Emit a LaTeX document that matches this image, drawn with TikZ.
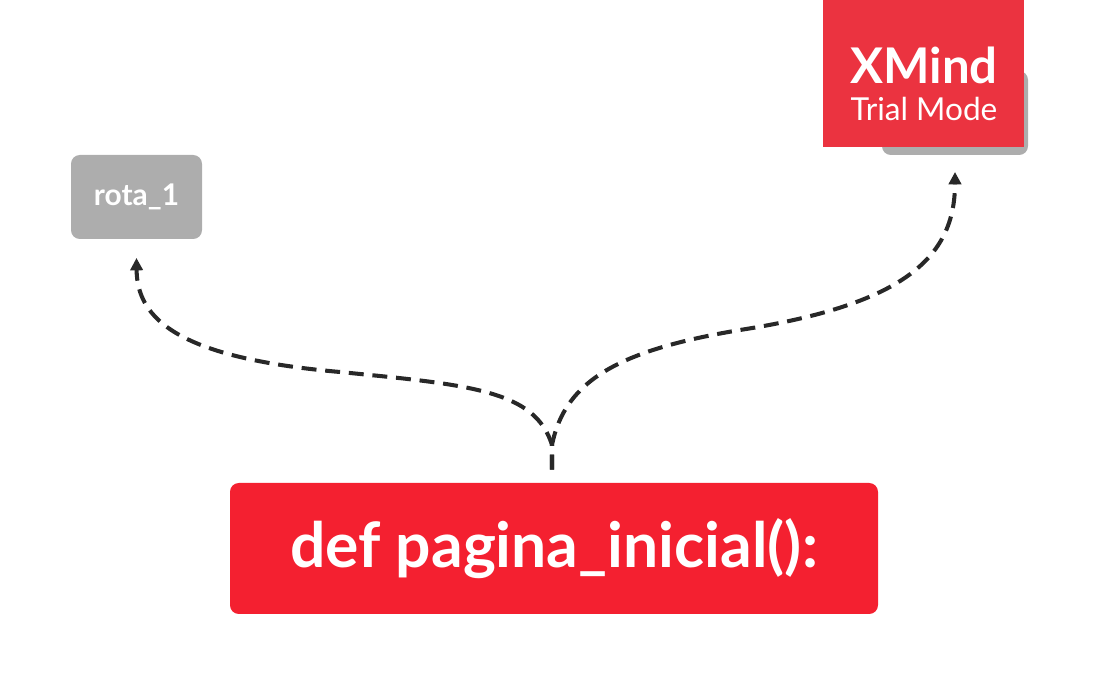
\documentclass[tikz,border=0pt]{standalone}
\usepackage{fontspec}
\setmainfont{Lato}
\usetikzlibrary{arrows.meta}
\definecolor{topicred}{RGB}{244,32,48}
\definecolor{markred}{RGB}{235,51,64}
\definecolor{topicgray}{RGB}{173,173,173}
\definecolor{linkdark}{RGB}{40,40,40}
\begin{document}
\begin{tikzpicture}[x=0.02cm,y=0.02cm,
    topic/.style={fill=topicred,rounded corners=5pt,text=white,inner sep=0pt},
    sub/.style={fill=topicgray,rounded corners=5pt,text=white,inner sep=0pt},
    link/.style={linkdark,line width=2.3pt,dash pattern=on 8.5pt off 5pt,shorten <=0.26cm,-{Triangle[length=7pt,width=7pt]}}]
    \useasboundingbox (0,0) rectangle (1100,686);
    % topics
    \node[topic,minimum width=648*0.02cm,minimum height=131*0.02cm,font=\fontsize{35.5}{38}\selectfont\bfseries] (main) at (554,137.5) {def pagina\_inicial():};
    \node[sub,minimum width=131*0.02cm,minimum height=84*0.02cm,font=\fontsize{17}{19}\selectfont\bfseries] (rota) at (136.5,489) {rota\_1};
    \node[sub,minimum width=146*0.02cm,minimum height=84*0.02cm] (hidden) at (955,573) {};
    % trial watermark
    \node[fill=markred,minimum width=201*0.02cm,minimum height=147*0.02cm,inner sep=0pt] (mark) at (923.5,612.5) {};
    \node[text=white,align=center,inner sep=0pt,font=\fontsize{18}{21}\selectfont] (marktext) at (924,602)
      {{\fontsize{28}{21}\selectfont\bfseries XMind}\\Trial Mode};
    % links
    \coordinate (fork) at (552,241);
    \draw[link] (main.north -| fork) -- (fork) .. controls (535,296) and (470,301) .. (340,314) .. controls (180,328) and (137,366) .. (rota.south |- 0,428);
    \draw[link] (main.north -| fork) -- (fork) .. controls (565,306) and (620,336) .. (740,356) .. controls (900,381) and (955,426) .. (hidden.south |- 0,514);
\end{tikzpicture}
\end{document}
